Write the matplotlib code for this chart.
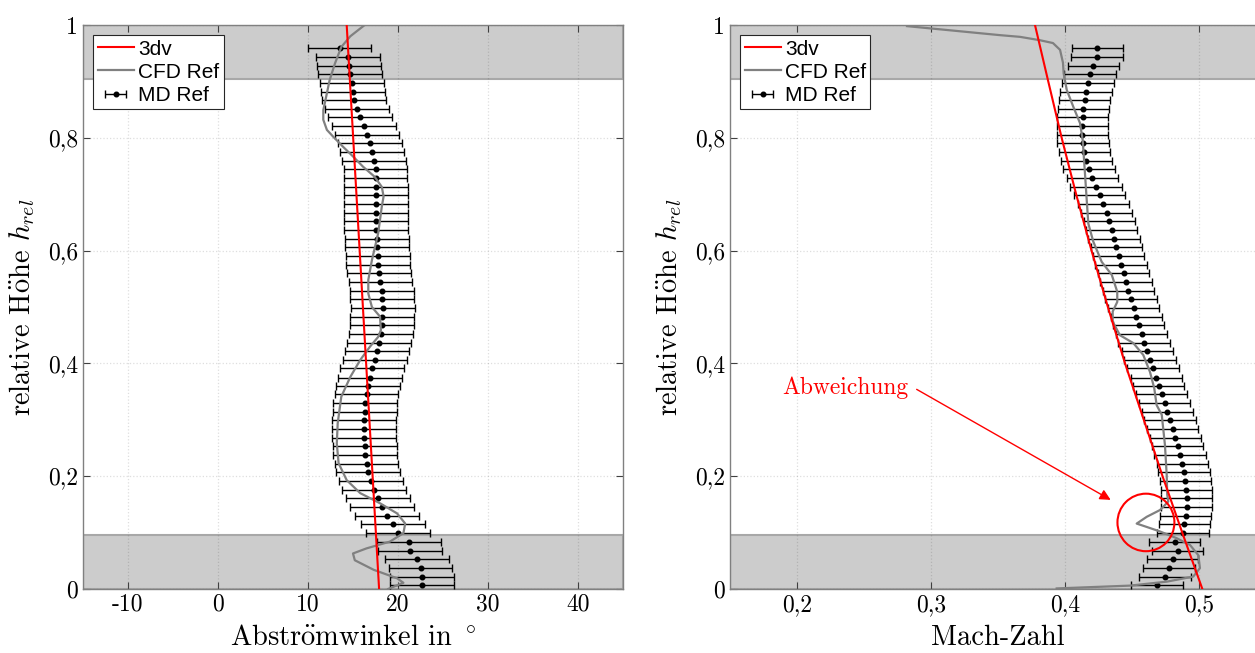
import matplotlib
matplotlib.use('Agg')
import matplotlib.pyplot as plt
from matplotlib.patches import Ellipse

plt.rcParams['font.family'] = ['cmr10', 'DejaVu Serif']
plt.rcParams['mathtext.fontset'] = 'cm'
plt.rcParams['axes.unicode_minus'] = False
plt.rcParams['axes.formatter.use_mathtext'] = True

# Messpunkte MD Ref (von oben nach unten)
h_md = [0.959, 0.943, 0.928, 0.913, 0.897, 0.882, 0.867, 0.851, 0.836, 0.821,
        0.805, 0.790, 0.775, 0.759, 0.744, 0.729, 0.713, 0.698, 0.682, 0.667,
        0.652, 0.636, 0.621, 0.606, 0.590, 0.575, 0.560, 0.544, 0.529, 0.514,
        0.498, 0.483, 0.468, 0.452, 0.437, 0.422, 0.406, 0.391, 0.375, 0.360,
        0.345, 0.329, 0.314, 0.299, 0.283, 0.268, 0.253, 0.237, 0.222, 0.207,
        0.191, 0.176, 0.161, 0.145, 0.130, 0.115, 0.099, 0.084, 0.068, 0.053,
        0.038, 0.022, 0.007]
md_winkel = [13.5, 14.4, 14.6, 14.7, 14.9, 15.0, 15.1, 15.4, 15.8, 16.2,
             16.6, 16.9, 17.1, 17.3, 17.5, 17.5, 17.55, 17.55, 17.6, 17.6,
             17.6, 17.6, 17.65, 17.7, 17.75, 17.8, 17.9, 18.05, 18.2, 18.25,
             18.3, 18.25, 18.2, 18.1, 17.9, 17.65, 17.4, 17.15, 16.9, 16.7,
             16.5, 16.35, 16.3, 16.25, 16.25, 16.25, 16.3, 16.35, 16.5, 16.7,
             17.0, 17.3, 17.75, 18.25, 18.8, 19.4, 19.95, 21.2, 21.35, 22.1,
             22.5, 22.7, 22.7]
md_mach = [0.4241, 0.4239, 0.4211, 0.4187, 0.4172, 0.4157, 0.4147, 0.4137, 0.4132, 0.4129,
           0.4129, 0.4134, 0.4144, 0.4159, 0.4179, 0.4204, 0.4231, 0.4259, 0.4286, 0.4311,
           0.4331, 0.4348, 0.4366, 0.4383, 0.4401, 0.4418, 0.4438, 0.4455, 0.4472, 0.4492,
           0.4512, 0.4531, 0.4549, 0.4571, 0.4590, 0.4613, 0.4635, 0.4657, 0.4680, 0.4700,
           0.4722, 0.4745, 0.4763, 0.4784, 0.4804, 0.4823, 0.4841, 0.4858, 0.4875, 0.4888,
           0.4898, 0.4905, 0.4908, 0.4908, 0.4901, 0.4890, 0.4881, 0.4819, 0.4841, 0.4804,
           0.4776, 0.4746, 0.4687]
fehler_winkel = 3.55
fehler_mach = 0.0191

# 3dv
h_3dv = [0.0, 0.1, 0.2, 0.3, 0.4, 0.5, 0.6, 0.7, 0.8, 0.9, 1.0]
winkel_3dv = [17.9, 17.54, 17.18, 16.82, 16.46, 16.1, 15.74, 15.38, 15.02, 14.66, 14.3]
mach_3dv = [0.5025, 0.4875, 0.4728, 0.4588, 0.4448, 0.4320, 0.4198, 0.4083, 0.3975, 0.3875, 0.3776]

# CFD Ref
h_cfd_w = [1.0, 0.98, 0.961, 0.932, 0.902, 0.879, 0.849, 0.832, 0.814, 0.802,
           0.784, 0.767, 0.749, 0.731, 0.713, 0.696, 0.678, 0.631, 0.583, 0.548,
           0.524, 0.5, 0.483, 0.459, 0.447, 0.43, 0.406, 0.376, 0.341, 0.294,
           0.258, 0.223, 0.193, 0.170, 0.152, 0.134, 0.116, 0.099, 0.084, 0.072,
           0.063, 0.051, 0.034, 0.019, 0.011, 0.004, 0.0]
cfd_winkel = [16.3, 14.7, 13.7, 13.0, 12.4, 12.1, 11.7, 11.7, 12.1, 12.8,
              13.9, 15.0, 16.1, 17.4, 18.2, 18.4, 18.2, 17.8, 17.1, 16.7,
              16.7, 17.1, 18.0, 18.1, 17.8, 16.9, 15.8, 14.7, 13.7, 13.3,
              13.2, 13.4, 14.3, 15.8, 18.0, 19.9, 20.8, 20.6, 19.1, 16.5,
              15.0, 15.2, 17.3, 19.9, 20.6, 19.5, 18.9]
h_cfd_m = [0.998, 0.982, 0.979, 0.973, 0.968, 0.956, 0.933, 0.914, 0.885, 0.855,
           0.826, 0.796, 0.737, 0.690, 0.648, 0.616, 0.580, 0.557, 0.527, 0.509,
           0.492, 0.474, 0.450, 0.436, 0.415, 0.385, 0.356, 0.326, 0.309, 0.255,
           0.202, 0.167, 0.155, 0.140, 0.128, 0.116, 0.110, 0.102, 0.090, 0.078,
           0.060, 0.037, 0.022, 0.013, 0.006, 0.001]
cfd_mach = [0.2821, 0.3515, 0.3664, 0.3813, 0.3910, 0.3963, 0.3985, 0.3990, 0.4013, 0.4062,
            0.4112, 0.4132, 0.4149, 0.4162, 0.4174, 0.4211, 0.4274, 0.4349, 0.4390, 0.4390,
            0.4356, 0.4356, 0.4410, 0.4510, 0.4584, 0.4634, 0.4666, 0.4684, 0.4722, 0.4746,
            0.4759, 0.4763, 0.4771, 0.4709, 0.4610, 0.4535, 0.4610, 0.4709, 0.4834, 0.4933,
            0.4995, 0.5007, 0.4957, 0.4759, 0.4485, 0.3938]

y_ticks = [0, 0.2, 0.4, 0.6, 0.8, 1.0]
y_labels = ['0', '0,2', '0,4', '0,6', '0,8', '1']
x_ticks_w = [-10, 0, 10, 20, 30, 40]
x_labels_w = ['-10', '0', '10', '20', '30', '40']
x_ticks_m = [0.2, 0.3, 0.4, 0.5]
x_labels_m = ['0,2', '0,3', '0,4', '0,5']

# cmr10 hat kein brauchbares ö -> Akzent über mathtext
y_label = r'relative H$\mathrm{\ddot{o}}$he $h_{rel}$'
x_label_w = r'Abstr$\mathrm{\ddot{o}}$mwinkel in $^\circ$'
x_label_m = 'Mach-Zahl'

fig = plt.figure(figsize=(12.55, 6.53), dpi=100)
ax1 = fig.add_axes([83 / 1255, 64 / 653, 540 / 1255, 564 / 653])
ax2 = fig.add_axes([730 / 1255, 64 / 653, 536 / 1255, 564 / 653])


def achse(ax, md, fehler, h_cfd, cfd, line3dv, xlim, xt, xl, xlabel):
    ax.axhspan(0, 0.095, facecolor='#cccccc', edgecolor='#a8a8a8', lw=1.5, zorder=1)
    ax.axhspan(0.904, 1.0, facecolor='#cccccc', edgecolor='#a8a8a8', lw=1.5, zorder=1)
    eb = ax.errorbar(md, h_md, xerr=fehler, fmt='o', color='k', ms=3.3,
                     elinewidth=1, capsize=2.6, capthick=1, zorder=3)
    cl, = ax.plot(cfd, h_cfd, color='#808080', lw=1.6, zorder=4)
    rl, = ax.plot(line3dv, h_3dv, color='red', lw=1.5, zorder=5)
    ax.set_xlim(*xlim)
    ax.set_ylim(0, 1)
    ax.set_xticks(xt)
    ax.set_xticklabels(xl)
    ax.set_yticks(y_ticks)
    ax.set_yticklabels(y_labels)
    ax.grid(True, color='0.15', alpha=0.15, linestyle=':', lw=0.9)
    ax.tick_params(direction='in', length=5, top=True, right=True,
                   labelsize=17, color='#404040', width=0.8)
    for s in ax.spines.values():
        s.set_color('#808080')
        s.set_linewidth(1.0)
    ax.set_xlabel(xlabel, fontsize=20.5, labelpad=6)
    ax.set_ylabel(y_label, fontsize=20.5, labelpad=8)
    leg = ax.legend([rl, cl, eb], ['3dv', 'CFD Ref', 'MD Ref'], loc='upper left',
                    prop={'family': 'Liberation Sans', 'size': 15},
                    fancybox=False, framealpha=1, edgecolor='#262626',
                    handlelength=1.75, handletextpad=0.2, labelspacing=0.2,
                    borderpad=0.2, borderaxespad=0.5)
    leg.get_frame().set_linewidth(0.8)
    leg.set_zorder(10)


achse(ax1, md_winkel, fehler_winkel, h_cfd_w, cfd_winkel, winkel_3dv,
      (-15, 45), x_ticks_w, x_labels_w, x_label_w)
achse(ax2, md_mach, fehler_mach, h_cfd_m, cfd_mach, mach_3dv,
      (0.15, 0.55), x_ticks_m, x_labels_m, x_label_m)

ax2.text(0.2358, 0.356, 'Abweichung', color='red', fontsize=17, ha='center', va='center')
ax2.annotate('', xy=(0.4341, 0.158), xytext=(0.2893, 0.354),
             arrowprops=dict(arrowstyle='-|>', color='red', lw=1, mutation_scale=16,
                             shrinkA=0, shrinkB=0))
ax2.add_patch(Ellipse((0.4604, 0.118), 0.0425, 0.102, fill=False, ec='red', lw=1.5, zorder=6))

fig.savefig('out.png', dpi=100)
